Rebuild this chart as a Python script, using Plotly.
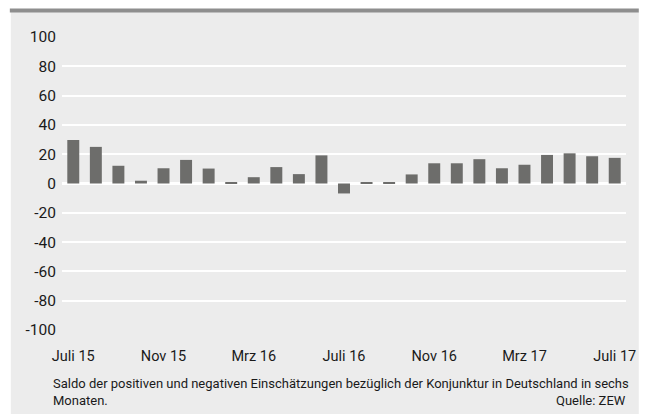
import plotly.graph_objects as go

# ZEW economic sentiment balance, monthly, July 2015 - July 2017
months = ["Jul 15", "Aug 15", "Sep 15", "Okt 15", "Nov 15", "Dez 15",
          "Jan 16", "Feb 16", "Mrz 16", "Apr 16", "Mai 16", "Jun 16",
          "Jul 16", "Aug 16", "Sep 16", "Okt 16", "Nov 16", "Dez 16",
          "Jan 17", "Feb 17", "Mrz 17", "Apr 17", "Mai 17", "Jun 17", "Jul 17"]
saldo = [29.7, 25.0, 12.1, 1.9, 10.4, 16.1,
         10.2, 0.9, 4.3, 11.2, 6.4, 19.2,
         -6.8, 0.5, 0.5, 6.2, 13.8, 13.8,
         16.6, 10.4, 12.8, 19.5, 20.6, 18.6, 17.5]
tick_idx = [0, 4, 8, 12, 16, 20, 24]
tick_text = ["Juli 15", "Nov 15", "Mrz 16", "Juli 16", "Nov 16", "Mrz 17", "Juli 17"]
y_ticks = [100, 80, 60, 40, 20, 0, -20, -40, -60, -80, -100]
y_text = [str(v) for v in y_ticks]  # plain hyphen for negatives

W, H = 648, 414
L, R, T, B = 62, 13, 37, 84
PW, PH = W - L - R, H - T - B
FONT = "Roboto"
BG = "#ececec"
TXT = "#1a1a1a"

fig = go.Figure(go.Bar(
    x=list(range(len(months))), y=saldo,
    marker=dict(color="#6d6d6b", line=dict(width=0)),
    hovertext=months,
))

def fx(xpix):
    return (xpix - L) / PW

def fy(ypix):
    return (H - B - ypix) / PH

cap_font = dict(family=FONT, size=13, color=TXT)

fig.update_layout(
    width=W, height=H,
    margin=dict(l=L, r=R, t=T, b=B),
    paper_bgcolor="white",
    plot_bgcolor=BG,
    bargap=0.47,
    showlegend=False,
    font=dict(family=FONT, size=14.5, color=TXT),
    xaxis=dict(
        range=[-0.5, len(months) - 0.5],
        tickmode="array", tickvals=tick_idx, ticktext=tick_text,
        showgrid=False, zeroline=False, ticks="", showline=False,
        ticklabelstandoff=15,
    ),
    yaxis=dict(
        range=[-100, 100],
        tickmode="array", tickvals=y_ticks, ticktext=y_text,
        tickfont=dict(size=15.5),
        showgrid=True, gridcolor="white", gridwidth=1.5,
        zeroline=True, zerolinecolor="white", zerolinewidth=2.5,
        ticks="", showline=False,
        ticklabelstandoff=5,
    ),
    shapes=[
        # grey panel behind the whole chart
        dict(type="rect", xref="paper", yref="paper", layer="below",
             x0=fx(10), x1=fx(W), y0=fy(H), y1=fy(12),
             fillcolor=BG, line=dict(width=0)),
        # dark rule along the top edge
        dict(type="rect", xref="paper", yref="paper",
             x0=fx(9), x1=fx(W), y0=fy(12.5), y1=fy(8.5),
             fillcolor="#8e8e8e", line=dict(width=0)),
    ],
    annotations=[
        dict(xref="paper", yref="paper", x=fx(52), y=fy(383),
             xanchor="left", yanchor="middle", showarrow=False, borderpad=0,
             text="Saldo der positiven und negativen Einschätzungen bezüglich der Konjunktur in Deutschland in sechs",
             font=cap_font),
        dict(xref="paper", yref="paper", x=fx(52), y=fy(400),
             xanchor="left", yanchor="middle", showarrow=False, borderpad=0,
             text="Monaten.", font=cap_font),
        dict(xref="paper", yref="paper", x=fx(636), y=fy(400),
             xanchor="right", yanchor="middle", showarrow=False, borderpad=0,
             text="Quelle: ZEW", font=cap_font),
    ],
)

fig.write_html("out.html")
